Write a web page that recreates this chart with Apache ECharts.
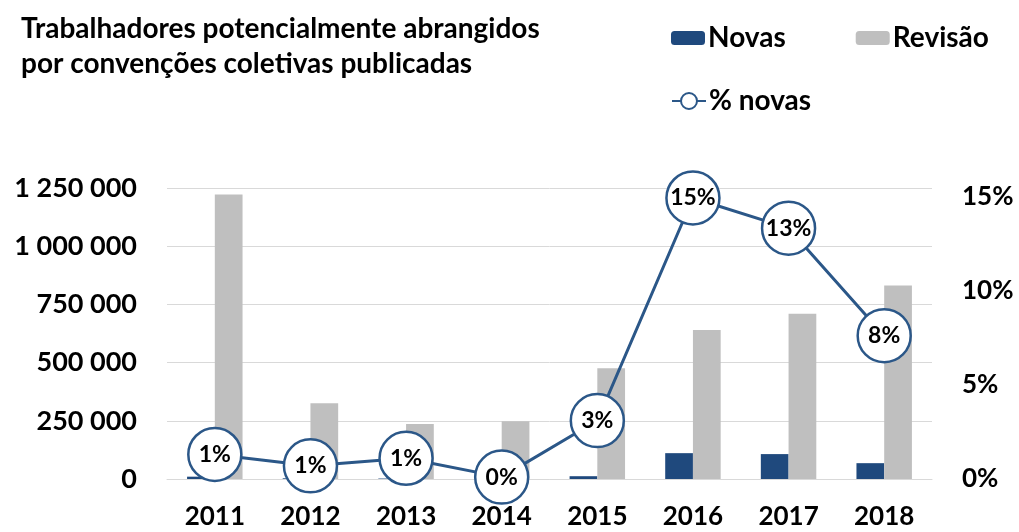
<!DOCTYPE html>
<html lang="pt">
<head>
    <meta charset="UTF-8">
    <title>Trabalhadores abrangidos</title>
    <script src="https://cdn.jsdelivr.net/npm/echarts@6/dist/echarts.min.js"></script>
    <style>
        html, body { margin: 0; padding: 0; background: #fff; }
        #main { width: 1019px; height: 532px; }
    </style>
</head>
<body>
<div id="main"></div>
<script type="text/javascript">
    // dados
    var anos = ['2011', '2012', '2013', '2014', '2015', '2016', '2017', '2018'];
    var novas = [10000, 3000, 2000, 1000, 12000, 111000, 107000, 68000];
    var revisao = [1222000, 325000, 236000, 248000, 476000, 640000, 710000, 831000];
    var pctNovas = [1.3, 0.7, 1.1, 0.1, 3.1, 14.9, 13.3, 7.6];

    var fonte = 'Lato';
    var azul = '#1f497d';
    var linha = '#2b5788';
    var cinza = '#bfbfbf';

    var myChart = echarts.init(document.getElementById('main'));

    var option = {
        animation: false,
        textStyle: { fontFamily: fonte },
        title: {
            text: 'Trabalhadores potencialmente abrangidos\npor convenções coletivas publicadas',
            left: 16,
            top: 6,
            textStyle: {
                fontFamily: fonte, fontWeight: 'bold', fontSize: 28,
                color: '#000', lineHeight: 35
            }
        },
        legend: [
            {
                data: ['Novas', 'Revisão'],
                left: 666, top: 19,
                itemWidth: 34, itemHeight: 14, itemGap: 70,
                textStyle: { fontFamily: fonte, fontWeight: 'bold', fontSize: 28, color: '#000', padding: [0, 0, 0, -2] }
            },
            {
                data: ['% novas'],
                left: 666, top: 82,
                itemWidth: 34, itemHeight: 20,
                textStyle: { fontFamily: fonte, fontWeight: 'bold', fontSize: 28, color: '#000', padding: [0, 0, 0, -2] }
            }
        ],
        grid: { left: 167, right: 87, top: 188, bottom: 53 },
        xAxis: {
            type: 'category',
            data: anos,
            axisTick: { show: false },
            axisLine: { lineStyle: { color: '#d9d9d9', width: 1 } },
            axisLabel: { fontFamily: fonte, fontWeight: 'bold', fontSize: 26, color: '#000', margin: 25 }
        },
        yAxis: [
            {
                type: 'value',
                min: 0, max: 1250000, interval: 250000,
                axisLine: { show: false },
                axisTick: { show: false },
                splitLine: { lineStyle: { color: '#d9d9d9', width: 1 } },
                axisLabel: {
                    fontFamily: fonte, fontWeight: 'bold', fontSize: 27, color: '#000', margin: 30,
                    formatter: function (v) {
                        return String(v).replace(/\B(?=(\d{3})+(?!\d))/g, ' ');
                    }
                }
            },
            {
                type: 'value',
                min: 0, max: 15.43, interval: 5,
                axisLine: { show: false },
                axisTick: { show: false },
                splitLine: { show: false },
                axisLabel: {
                    fontFamily: fonte, fontWeight: 'bold', fontSize: 26, color: '#000', margin: 30,
                    showMaxLabel: false,
                    formatter: function (v) { return v % 5 === 0 ? v + '%' : ''; }
                }
            }
        ],
        series: [
            {
                name: 'Novas',
                type: 'bar',
                data: novas,
                barGap: '0%',
                barCategoryGap: '42%',
                itemStyle: { color: azul }
            },
            {
                name: 'Revisão',
                type: 'bar',
                data: revisao,
                itemStyle: { color: cinza }
            },
            {
                name: '% novas',
                type: 'line',
                yAxisIndex: 1,
                data: pctNovas,
                symbol: 'circle',
                symbolSize: 53,
                z: 5,
                lineStyle: { color: linha, width: 3 },
                itemStyle: { color: '#fff', borderColor: linha, borderWidth: 2.5 },
                label: {
                    show: true,
                    position: 'inside',
                    fontFamily: fonte, fontWeight: 'bold', fontSize: 23, color: '#000',
                    formatter: function (p) { return Math.round(p.value) + '%'; }
                }
            }
        ]
    };

    myChart.setOption(option);
</script>
</body>
</html>
